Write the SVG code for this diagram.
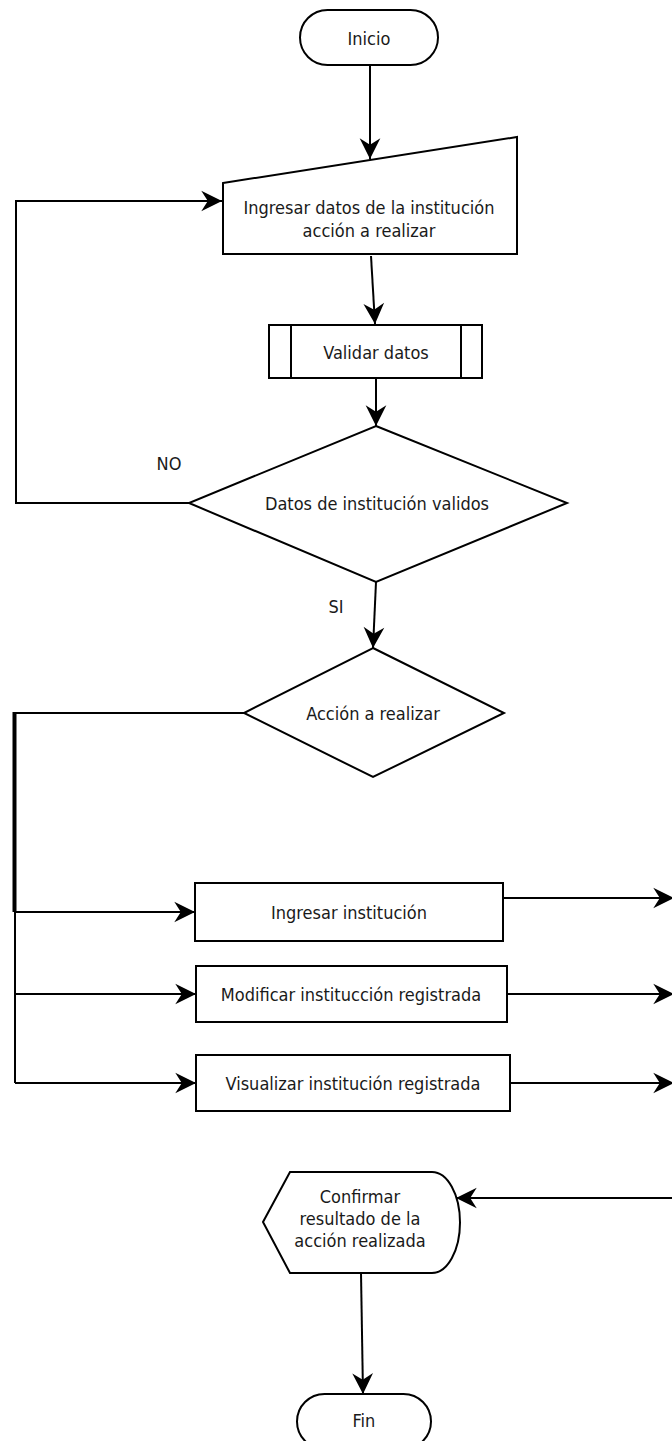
<svg xmlns="http://www.w3.org/2000/svg" width="672" height="1441" viewBox="0 0 672 1441">
  <style>
    .shape { fill: #ffffff; stroke: #000000; stroke-width: 2; }
    .edge { fill: none; stroke: #000000; stroke-width: 2; }
    .thick { fill: none; stroke: #000000; stroke-width: 4; }
    .label { font-family: "DejaVu Sans Condensed", "DejaVu Sans", sans-serif; font-stretch: condensed; font-size: 18px; fill: #1a1a1a; text-anchor: middle; }
  </style>
  <defs>
    <marker id="arrow" markerUnits="userSpaceOnUse" markerWidth="24" markerHeight="24" viewBox="-20 -11 22 22" refX="0" refY="0" orient="auto">
      <path d="M0,0 L-19,-9.5 L-13,0 L-19,9.5 Z" fill="#000000" stroke="none"/>
    </marker>
  </defs>
  <rect x="0" y="0" width="672" height="1441" fill="#ffffff"/>

  <!-- connectors -->
  <g id="connectors">
    <path class="edge" d="M370,65 L370,159" marker-end="url(#arrow)"/>
    <path class="edge" d="M371,256 L375,324" marker-end="url(#arrow)"/>
    <path class="edge" d="M376,378 L376,426" marker-end="url(#arrow)"/>
    <!-- NO: back to data entry -->
    <path class="edge" d="M189,503 L16,503 L16,201 L222,201" marker-end="url(#arrow)"/>
    <!-- SI -->
    <path class="edge" d="M376,582 L373,648" marker-end="url(#arrow)"/>
    <!-- action branches -->
    <path class="edge" d="M244,713 L14,713"/>
    <path class="thick" d="M14.5,712 L14.5,912"/>
    <path class="edge" d="M15,912 L15,1083"/>
    <path class="edge" d="M15,912 L195,912" marker-end="url(#arrow)"/>
    <path class="edge" d="M15,994 L196,994" marker-end="url(#arrow)"/>
    <path class="edge" d="M15,1083 L196,1083" marker-end="url(#arrow)"/>
    <path class="edge" d="M503,898 L674,898" marker-end="url(#arrow)"/>
    <path class="edge" d="M507,994 L674,994" marker-end="url(#arrow)"/>
    <path class="edge" d="M510,1083 L674,1083" marker-end="url(#arrow)"/>
    <path class="edge" d="M672,1198 L456,1198" marker-end="url(#arrow)"/>
    <path class="edge" d="M361,1273 L363,1394" marker-end="url(#arrow)"/>
    <text class="label" x="169" y="470">NO</text>
    <text class="label" x="336" y="613">SI</text>
  </g>

  <g id="inicio">
    <rect class="shape" x="300" y="10" width="138" height="55" rx="27.5" ry="27.5"/>
    <text class="label" x="369" y="45">Inicio</text>
  </g>

  <g id="ingresar-datos">
    <path class="shape" d="M223,183 L517,137 L517,254 L223,254 Z"/>
    <text class="label" x="369" y="214">Ingresar datos de la institución</text>
    <text class="label" x="369" y="237">acción a realizar</text>
  </g>

  <g id="validar-datos">
    <rect class="shape" x="269" y="325" width="213" height="53"/>
    <line class="edge" x1="291" y1="325" x2="291" y2="378"/>
    <line class="edge" x1="461" y1="325" x2="461" y2="378"/>
    <text class="label" x="376" y="359">Validar datos</text>
  </g>

  <g id="datos-validos">
    <path class="shape" d="M376,426 L567,503 L376,582 L189,503 Z"/>
    <text class="label" x="377" y="510">Datos de institución validos</text>
  </g>

  <g id="accion-realizar">
    <path class="shape" d="M373,648 L504,713 L373,777 L244,713 Z"/>
    <text class="label" x="373" y="720">Acción a realizar</text>
  </g>

  <g id="ingresar-institucion">
    <rect class="shape" x="195" y="883" width="308" height="58"/>
    <text class="label" x="349" y="919">Ingresar institución</text>
  </g>

  <g id="modificar-institucion">
    <rect class="shape" x="196" y="966" width="311" height="56"/>
    <text class="label" x="351" y="1001">Modificar institucción registrada</text>
  </g>

  <g id="visualizar-institucion">
    <rect class="shape" x="196" y="1055" width="314" height="56"/>
    <text class="label" x="353" y="1090">Visualizar institución registrada</text>
  </g>

  <g id="confirmar-resultado">
    <path class="shape" d="M263,1222 L290,1172 L432,1172 A28,50.5 0 0 1 432,1273 L290,1273 Z"/>
    <text class="label" x="360" y="1203">Confirmar</text>
    <text class="label" x="360" y="1225">resultado de la</text>
    <text class="label" x="360" y="1247">acción realizada</text>
  </g>

  <g id="fin">
    <rect class="shape" x="297" y="1394" width="134" height="55" rx="27.5" ry="27.5"/>
    <text class="label" x="364" y="1427">Fin</text>
  </g>
</svg>
